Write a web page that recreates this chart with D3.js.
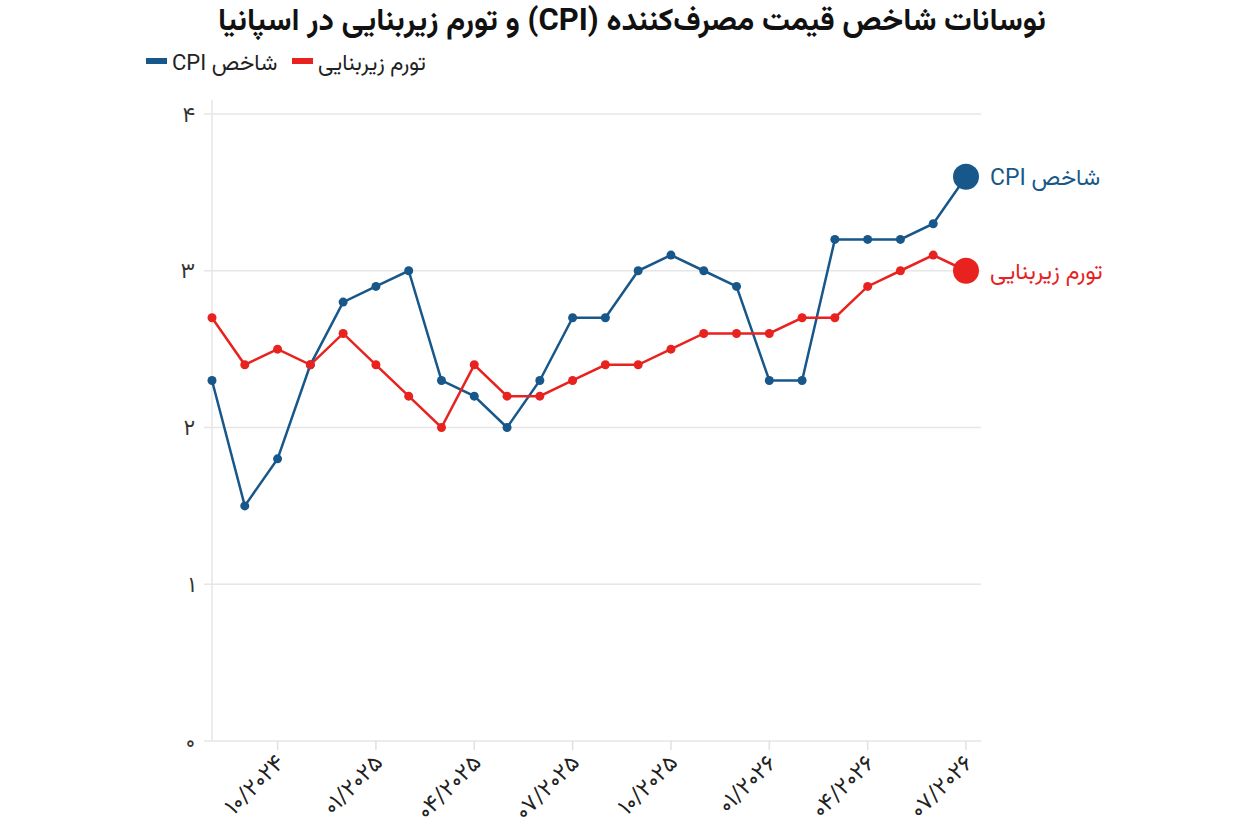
<!DOCTYPE html>
<html><head><meta charset="utf-8">
<script src="https://cdn.jsdelivr.net/npm/d3@7"></script>
<style>
body{margin:0;background:#fff;}
text{font-family:Roboto,Vazirmatn,"Noto Sans Arabic","DejaVu Sans",sans-serif;}
</style></head>
<body><svg id="c" width="1257" height="832"></svg>
<script>
const months = ["08/2024","09/2024","10/2024","11/2024","12/2024","01/2025","02/2025","03/2025","04/2025","05/2025","06/2025","07/2025","08/2025","09/2025","10/2025","11/2025","12/2025","01/2026","02/2026","03/2026","04/2026","05/2026","06/2026","07/2026"];
const cpi  = [2.3,1.5,1.8,2.4,2.8,2.9,3.0,2.3,2.2,2.0,2.3,2.7,2.7,3.0,3.1,3.0,2.9,2.3,2.3,3.2,3.2,3.2,3.3,3.6];
const core = [2.7,2.4,2.5,2.4,2.6,2.4,2.2,2.0,2.4,2.2,2.2,2.3,2.4,2.4,2.5,2.6,2.6,2.6,2.7,2.7,2.9,3.0,3.1,3.0];
const seriesNames = ["شاخص CPI","تورم زیربنایی"];
const xTickMonths = ["10/2024","01/2025","04/2025","07/2025","10/2025","01/2026","04/2026","07/2026"];
const xTickLabels = ["۱۰/۲۰۲۴","۰۱/۲۰۲۵","۰۴/۲۰۲۵","۰۷/۲۰۲۵","۱۰/۲۰۲۵","۰۱/۲۰۲۶","۰۴/۲۰۲۶","۰۷/۲۰۲۶"];
const yTicks = [0,1,2,3,4];
const yTickLabels = ["۰","۱","۲","۳","۴"];
const title = "نوسانات شاخص قیمت مصرف‌کننده (CPI) و تورم زیربنایی در اسپانیا";

const RLE="\u202B", PDF="\u202C";
const colors = ["#17578a","#e8221f"];
const svg = d3.select("#c");
const x = d3.scaleLinear().domain([0, months.length-1]).range([212, 966]);
const y = d3.scaleLinear().domain([0,4]).range([741,114]);

svg.append("g").selectAll("line").data(yTicks).join("line")
  .attr("x1",204).attr("x2",981).attr("y1",d=>y(d)).attr("y2",d=>y(d))
  .attr("stroke","#e6e6e6").attr("stroke-width",1.5);
svg.append("line").attr("x1",212).attr("x2",212).attr("y1",100).attr("y2",741)
  .attr("stroke","#e6e6e6").attr("stroke-width",1.5);
svg.append("g").selectAll("text").data(yTicks).join("text")
  .attr("x",195).attr("y",d=>y(d)).attr("dy","0.35em").attr("text-anchor","end")
  .attr("font-size",22).attr("fill","#333").text((d,i)=>yTickLabels[i]);
const tickIdx = xTickMonths.map(m=>months.indexOf(m));
svg.append("g").selectAll("line").data(tickIdx).join("line")
  .attr("x1",d=>x(d)).attr("x2",d=>x(d)).attr("y1",741).attr("y2",750)
  .attr("stroke","#e0e0e0").attr("stroke-width",1.5);
svg.append("g").selectAll("text").data(tickIdx).join("text")
  .attr("transform",d=>`translate(${x(d)+8},${764}) rotate(-45)`)
  .attr("text-anchor","end").attr("font-size",23).attr("fill","#222")
  .text((d,i)=>xTickLabels[i]);

const line = d3.line().x((d,i)=>x(i)).y(d=>y(d));
[cpi, core].forEach((s,k)=>{
  svg.append("path").datum(s).attr("d",line).attr("fill","none")
    .attr("stroke",colors[k]).attr("stroke-width",2.5);
  svg.append("g").selectAll("circle").data(s.slice(0,-1)).join("circle")
    .attr("cx",(d,i)=>x(i)).attr("cy",d=>y(d)).attr("r",4.5)
    .attr("fill",colors[k]);
  const li = s.length-1;
  svg.append("circle").attr("cx",x(li)).attr("cy",y(s[li])).attr("r",13).attr("fill",colors[k]);
  svg.append("text").attr("x",x(li)+24).attr("y",y(s[li])).attr("dy","0.35em")
    .attr("font-size",23).attr("fill",colors[k]).text(RLE+seriesNames[k]+PDF);
});

svg.append("text").attr("x",632).attr("y",30).attr("text-anchor","middle")
  .attr("font-size",31).attr("font-weight","bold").attr("fill","#111").text(RLE+title+PDF);
const legX = [146, 292];
const legTextX = [172, 318];
seriesNames.forEach((n,k)=>{
  svg.append("rect").attr("x",legX[k]).attr("y",58).attr("width",21).attr("height",6).attr("fill",colors[k]);
  svg.append("text").attr("x",legTextX[k]).attr("y",62).attr("dy","0.35em")
    .attr("font-size",22).attr("fill","#222").text(RLE+n+PDF);
});
</script></body></html>
